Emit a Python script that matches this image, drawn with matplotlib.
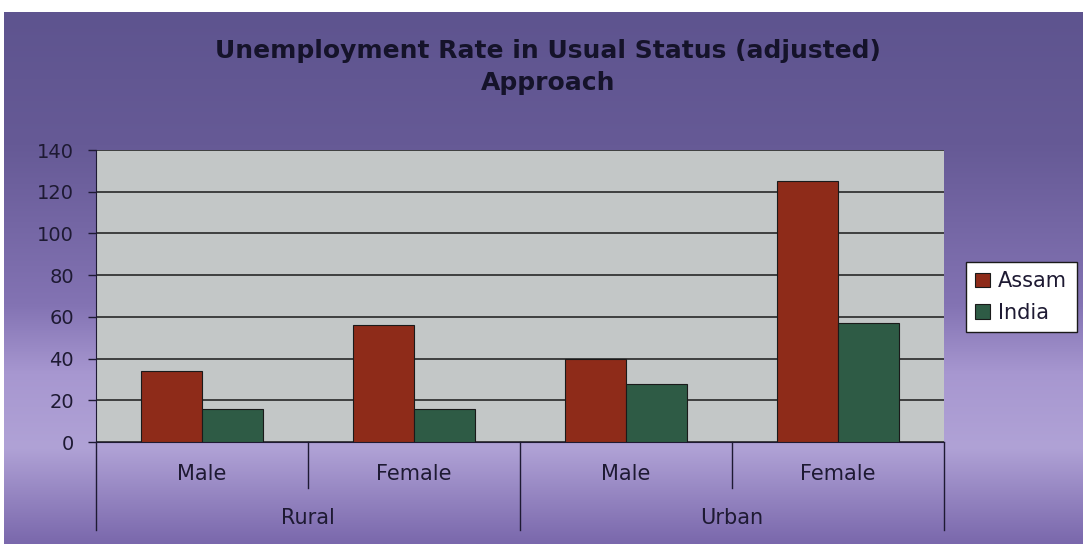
import numpy as np
import matplotlib
matplotlib.use("Agg")
import matplotlib.pyplot as plt
from matplotlib.colors import LinearSegmentedColormap

plt.rcParams['font.family'] = ['DejaVu Sans']

groups = ["Rural", "Urban"]
subcats = ["Male", "Female", "Male", "Female"]
assam = [34, 56, 40, 125]
india = [16, 16, 28, 57]
series_names = ["Assam", "India"]
yticks = [0, 20, 40, 60, 80, 100, 120, 140]
title = "Unemployment Rate in Usual Status (adjusted)\nApproach"

W, H = 1083, 544
fig = plt.figure(figsize=(W / 100, H / 100), dpi=100)
fig.patch.set_facecolor("white")
TXT = "#1E1A33"

def px(x0, y0, x1, y1):
    return [x0 / W, 1 - y1 / H, (x1 - x0) / W, (y1 - y0) / H]

# background gradient
bg = fig.add_axes(px(4, 12, W, H), zorder=0)
stops = [(0.0, "#5E548F"), (0.25, "#665A96"), (0.55, "#8373B3"),
         (0.68, "#A797D0"), (0.82, "#B0A2D6"), (1.0, "#7A68AC")]
cmap = LinearSegmentedColormap.from_list("bg", stops)
grad = np.linspace(0, 1, 256).reshape(-1, 1)
bg.imshow(grad, aspect="auto", cmap=cmap, extent=[0, 1, 0, 1], origin="upper")
bg.set_xlim(0, 1); bg.set_ylim(0, 1)
bg.axis("off")

# main plot
x0p, x1p, y0p, y1p = 96, 944, 150, 442
ax = fig.add_axes(px(x0p, y0p, x1p, y1p), zorder=2)
ax.set_facecolor("#C3C7C7")
x = np.arange(len(subcats))
w = 1 / 3.5
ax.bar(x - w / 2, assam, w, color="#8E2B19", edgecolor="#1a1a1a", linewidth=0.8,
       label=series_names[0], zorder=3)
ax.bar(x + w / 2, india, w, color="#2E5B45", edgecolor="#1a1a1a", linewidth=0.8,
       label=series_names[1], zorder=3)
ax.set_xlim(-0.5, len(subcats) - 0.5)
ax.set_ylim(0, 140)
ax.set_yticks(yticks)
ax.set_yticklabels([str(t) for t in yticks], fontsize=14, color=TXT)
ax.yaxis.grid(True, color="#1a1a1a", linewidth=1.1, zorder=1)
ax.set_axisbelow(True)
ax.tick_params(axis="y", length=6, width=1, color=TXT, pad=10)
ax.set_xticks([])
for s in ["top", "right"]:
    ax.spines[s].set_visible(False)
ax.spines["left"].set_color(TXT)
ax.spines["bottom"].set_color(TXT)

# multi-level category labels
trans = ax.get_xaxis_transform()
def ypos(py):
    return (y1p - py) / (y1p - y0p)
for i, lab in enumerate(subcats):
    ax.text(i, ypos(474), lab, transform=trans, ha="center", va="center",
            fontsize=15, color=TXT, clip_on=False)
for i, g in enumerate(groups):
    ax.text(2 * i + 0.5, ypos(518), g, transform=trans, ha="center", va="center",
            fontsize=15, color=TXT, clip_on=False)
for b in [-0.5, 1.5, 3.5]:
    ax.plot([b, b], [0, ypos(530)], transform=trans, color=TXT, lw=1, clip_on=False)
for b in [0.5, 2.5]:
    ax.plot([b, b], [0, ypos(488)], transform=trans, color=TXT, lw=1, clip_on=False)

# title
fig.text(548 / W, 1 - 67 / H, title, ha="center", va="center", fontsize=18,
         fontweight="bold", color="#15132a", linespacing=1.45)

# legend
leg = fig.legend(loc="upper left", bbox_to_anchor=(966 / W, 1 - 262 / H),
                 frameon=True, fontsize=15, handlelength=0.7, handleheight=0.7,
                 handletextpad=0.4, borderpad=0.45, labelspacing=0.55,
                 fancybox=False, edgecolor="#1a1a1a", borderaxespad=0,
                 framealpha=1)
leg.get_frame().set_facecolor("white")
leg.get_frame().set_linewidth(1)
for t in leg.get_texts():
    t.set_color(TXT)

fig.savefig("out.png", dpi=100)
